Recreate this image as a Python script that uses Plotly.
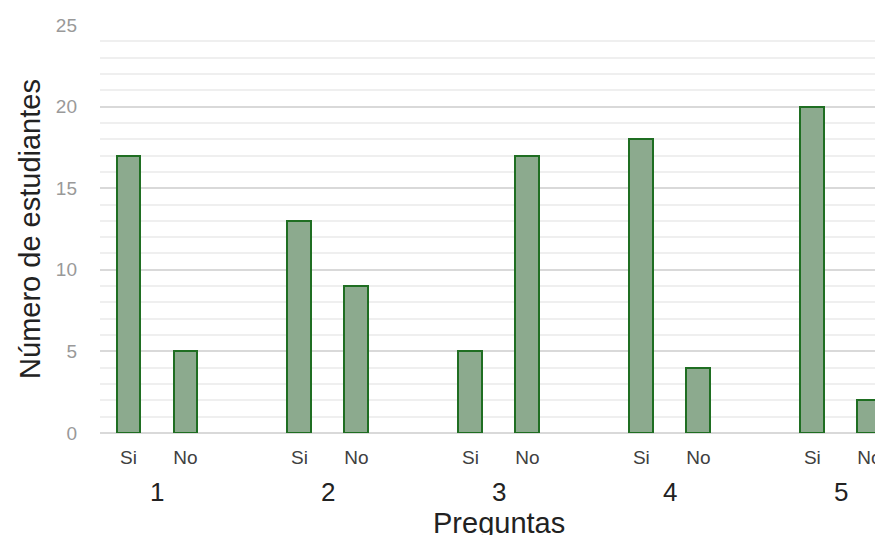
import plotly.graph_objects as go

questions = ["1", "2", "3", "4", "5"]
answer_labels = ["Si", "No"]
si_values = [17, 13, 5, 18, 20]
no_values = [5, 9, 17, 4, 2]

x_pos, y_vals, tick_text = [], [], []
for i, q in enumerate(questions):
    for j, (lab, val) in enumerate(zip(answer_labels, [si_values[i], no_values[i]])):
        x_pos.append(i * 3 + j)
        y_vals.append(val)
        tick_text.append(lab)

fig = go.Figure()
fig.add_trace(go.Bar(
    x=x_pos, y=y_vals, width=0.42,
    marker=dict(color="#8caa8e", line=dict(color="#1f6e22", width=2)),
    showlegend=False,
))

font_family = "Liberation Sans, Arial, sans-serif"
PLOT_H = 408
annotations = []
for i, q in enumerate(questions):
    annotations.append(dict(
        x=i * 3 + 0.5, y=-59 / PLOT_H, xref="x", yref="paper", text=q, showarrow=False,
        yanchor="middle", font=dict(size=26, color="#222222", family=font_family)))
annotations.append(dict(
    x=(499 - 100) / 783, y=-(523 - 433) / PLOT_H, xref="paper", yref="paper",
    text="Preguntas", showarrow=False, xanchor="center", yanchor="middle",
    font=dict(size=29, color="#222222", family=font_family)))

# page body has an 8px margin; compensate so the plot lands where the reference has it
fig.update_layout(
    width=875, height=527,
    margin=dict(l=92, r=0, t=17, b=102),
    paper_bgcolor="white", plot_bgcolor="white",
    font=dict(family=font_family),
    bargap=0,
    xaxis=dict(
        range=[-0.5, 13.24], tickmode="array", tickvals=x_pos, ticktext=tick_text,
        showgrid=False, zeroline=False, showline=False, ticks="",
        tickfont=dict(size=19, color="#404040"),
        ticklabelstandoff=11,
    ),
    yaxis=dict(
        range=[0, 25], tickmode="linear", dtick=5, tick0=0,
        showgrid=True, gridcolor="#d9d9d9", gridwidth=1.5,
        minor=dict(dtick=1, showgrid=True, gridcolor="#efefef", gridwidth=1.5),
        zeroline=True, zerolinecolor="#d9d9d9", zerolinewidth=1.5,
        showline=False, ticks="",
        tickfont=dict(size=19, color="#999999"),
        ticklabelstandoff=22,
        title=dict(text="Número de estudiantes", font=dict(size=29, color="#222222"), standoff=6),
    ),
    annotations=annotations,
)

fig.write_html("out.html")
